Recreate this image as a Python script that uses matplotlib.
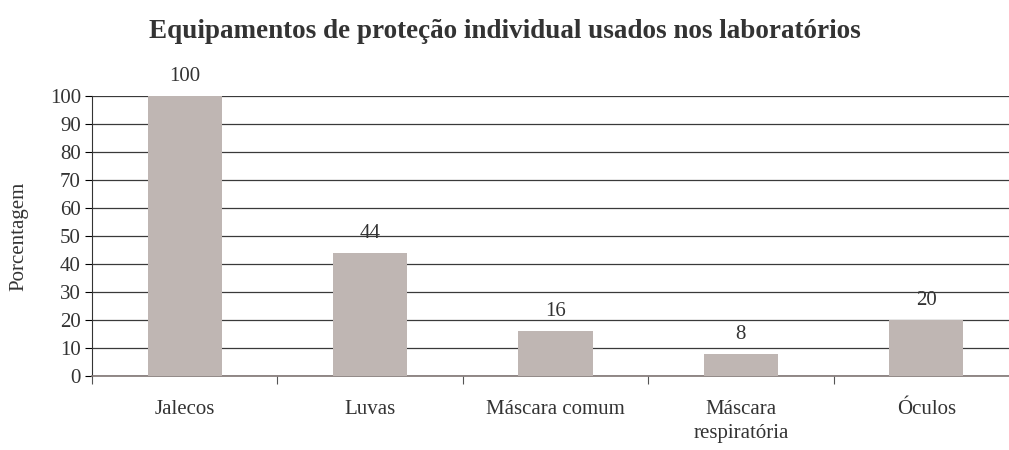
import numpy as np
import matplotlib.pyplot as plt

categorias = ["Jalecos", "Luvas", "Máscara comum", "Máscara\nrespiratória", "Óculos"]
valores = [100, 44, 16, 8, 20]

plt.rcParams['font.family'] = ['Liberation Serif', 'DejaVu Serif']

fig = plt.figure(figsize=(10.09, 4.5), dpi=100)
ax = fig.add_axes([92/1009, 1 - 376/450, 927/1009, 280/450])

x = np.arange(len(categorias))
ax.bar(x, valores, 0.4, color='#bfb6b3', zorder=3)

# rótulos de dados
for xi, v in zip(x, valores):
    ax.annotate(str(v), (xi, v), xytext=(0, 7), textcoords='offset points',
                ha='center', va='bottom', fontsize=15, color='#333333')

ax.set_xlim(-0.5, len(categorias) - 0.5)
ax.set_ylim(0, 100)
ax.set_yticks(np.arange(0, 101, 10))
ax.yaxis.grid(True, color='#3a3a3a', linewidth=0.9, zorder=0)
ax.axhline(100, color='#9a908d', linewidth=1.2, zorder=1)

ax.set_xticks(np.arange(-0.5, len(categorias), 1))
ax.set_xticklabels([])
ax.set_xticks(x, minor=True)
ax.set_xticklabels(categorias, minor=True, fontsize=15, color='#333333',
                   linespacing=1.35)
ax.tick_params(axis='x', which='major', length=6, direction='out', color='#555555')
ax.tick_params(axis='x', which='minor', length=0, pad=17)
ax.tick_params(axis='y', length=5, direction='out', labelsize=15,
               labelcolor='#333333', pad=3)

for s in ['top', 'right']:
    ax.spines[s].set_visible(False)
ax.spines['bottom'].set_color('#7f7573')
ax.spines['bottom'].set_linewidth(1.2)
ax.spines['left'].set_color('#333333')

ax.set_ylabel("Porcentagem", fontsize=15, color='#333333')
ax.yaxis.set_label_coords(-0.069, 0.5)
fig.text(0.5, 1 - 31/450, "Equipamentos de proteção individual usados nos laboratórios",
         ha='center', va='center', fontsize=19.5, fontweight='bold', color='#333333')

plt.savefig("out.png", dpi=100)
